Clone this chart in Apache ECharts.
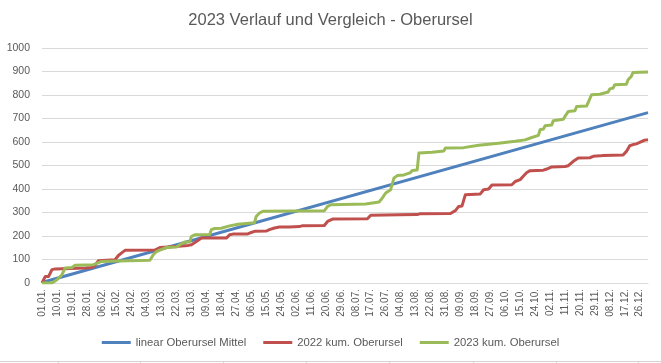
<!DOCTYPE html>
<html>
<head>
<meta charset="utf-8">
<script src="https://cdn.jsdelivr.net/npm/echarts@6/dist/echarts.min.js"></script>
<style>
html,body{margin:0;padding:0;background:#fff;}
#chart{width:661px;height:363px;}
</style>
</head>
<body>
<div id="chart"></div>
<script>
// Tick labels (every 9th day)
var tickLabels = ["01.01.","10.01.","19.01.","28.01.","06.02.","15.02.","24.02.","04.03.","13.03.","22.03.","31.03.","09.04.","18.04.","27.04.","06.05.","15.05.","24.05.","02.06.","11.06.","20.06.","29.06.","08.07.","17.07.","26.07.","04.08.","13.08.","22.08.","31.08.","09.09.","18.09.","27.09.","06.10.","15.10.","24.10.","02.11.","11.11.","20.11.","29.11.","08.12.","17.12.","26.12."];

var seriesNames = ["linear Oberursel Mittel","2022 kum. Oberursel","2023 kum. Oberursel"];

// [day index, value]
var linearMittel = [[0,2],[365,725]];

var kum2022 = [[0,0],[1,0],[2,28],[4,28],[6,57],[8,60],[17,62],[26,64],[30,66],[32,75],[34,95],[44,99],[46,117],[48,128],[50,139],[68,140],[71,151],[76,153],[82,156],[88,160],[90,163],[93,177],[96,191],[111,191],[113,205],[115,208],[124,209],[126,215],[128,220],[135,221],[137,227],[140,234],[143,238],[149,238],[155,240],[157,244],[170,245],[172,262],[175,272],[196,273],[198,288],[215,290],[226,291],[228,295],[246,296],[249,308],[251,326],[253,328],[255,376],[264,379],[266,397],[269,400],[271,417],[283,418],[285,432],[288,440],[290,455],[292,470],[294,478],[302,480],[304,485],[307,494],[315,496],[317,499],[320,518],[323,532],[330,533],[332,539],[336,541],[338,543],[350,545],[352,560],[354,584],[356,589],[358,592],[360,598],[363,608],[365,610]];

var kum2023 = [[0,0],[6,0],[9,14],[12,35],[14,64],[18,66],[20,76],[31,78],[32,85],[36,92],[46,94],[47,96],[65,97],[67,120],[69,134],[71,140],[75,151],[81,153],[83,163],[86,174],[89,176],[90,198],[92,205],[101,206],[102,227],[104,232],[108,233],[109,241],[113,243],[114,248],[118,250],[119,255],[128,256],[129,283],[131,298],[133,305],[170,307],[172,326],[174,333],[195,336],[196,343],[203,345],[205,362],[207,383],[210,397],[212,447],[214,457],[218,460],[219,468],[222,470],[223,479],[226,481],[227,553],[235,556],[236,560],[242,562],[243,574],[254,576],[255,584],[263,586],[264,593],[275,595],[276,601],[285,603],[286,607],[291,609],[292,617],[295,619],[296,624],[299,628],[300,652],[302,655],[303,669],[307,672],[308,691],[310,693],[311,695],[314,697],[315,709],[316,712],[317,730],[321,733],[322,751],[328,753],[329,769],[330,775],[331,801],[336,803],[337,811],[341,813],[342,826],[344,830],[345,844],[352,846],[353,865],[355,880],[356,896],[365,898]];

var colors = ["#4F81BD","#C0504D","#9BBB59"];
var font = "'Liberation Sans', Arial, sans-serif";

var chart = echarts.init(document.getElementById('chart'), null, {renderer:'canvas'});
chart.setOption({
  animation: false,
  backgroundColor: '#ffffff',
  color: colors,
  title: {
    text: '2023 Verlauf und Vergleich - Oberursel',
    left: 'center',
    top: 7,
    textStyle: {fontFamily: font, fontSize: 16.5, fontWeight: 'normal', color: '#595959'}
  },
  legend: {
    bottom: 10,
    left: 'center',
    icon: 'rect',
    itemWidth: 29,
    itemHeight: 3,
    itemGap: 17,
    textStyle: {fontFamily: font, fontSize: 11.3, color: '#595959'},
    data: seriesNames
  },
  grid: {left: 42, right: 13, top: 48, bottom: 80, containLabel: false},
  xAxis: {
    type: 'value',
    min: 0,
    max: 365,
    interval: 9,
    axisLine: {show: true, lineStyle: {color: '#d9d9d9', width: 1}},
    axisTick: {show: false},
    splitLine: {show: false},
    axisLabel: {
      rotate: 90,
      margin: 6,
      fontFamily: font,
      fontSize: 10,
      color: '#595959',
      showMaxLabel: false,
      formatter: function (v) { return (v % 9 === 0 && tickLabels[v / 9]) ? tickLabels[v / 9] : ''; }
    }
  },
  yAxis: {
    type: 'value',
    min: 0,
    max: 1000,
    interval: 100,
    axisLine: {show: false},
    axisTick: {show: false},
    splitLine: {show: true, lineStyle: {color: '#d9d9d9', width: 1}},
    axisLabel: {fontFamily: font, fontSize: 10.5, color: '#595959', margin: 12, formatter: function (v) { return String(v); }}
  },
  graphic: [
    {type: 'line', shape: {x1: 0, y1: 361.5, x2: 661, y2: 361.5}, style: {stroke: '#d4d4d4', lineWidth: 1}, silent: true},
    {type: 'line', shape: {x1: 58.5, y1: 361, x2: 58.5, y2: 363}, style: {stroke: '#d4d4d4', lineWidth: 1}, silent: true},
    {type: 'line', shape: {x1: 140.5, y1: 361, x2: 140.5, y2: 363}, style: {stroke: '#d4d4d4', lineWidth: 1}, silent: true},
    {type: 'line', shape: {x1: 223.5, y1: 361, x2: 223.5, y2: 363}, style: {stroke: '#d4d4d4', lineWidth: 1}, silent: true},
    {type: 'line', shape: {x1: 306.5, y1: 361, x2: 306.5, y2: 363}, style: {stroke: '#d4d4d4', lineWidth: 1}, silent: true},
    {type: 'line', shape: {x1: 389.5, y1: 361, x2: 389.5, y2: 363}, style: {stroke: '#d4d4d4', lineWidth: 1}, silent: true},
    {type: 'line', shape: {x1: 473.5, y1: 361, x2: 473.5, y2: 363}, style: {stroke: '#d4d4d4', lineWidth: 1}, silent: true},
    {type: 'line', shape: {x1: 556.5, y1: 361, x2: 556.5, y2: 363}, style: {stroke: '#d4d4d4', lineWidth: 1}, silent: true},
    {type: 'line', shape: {x1: 638.5, y1: 361, x2: 638.5, y2: 363}, style: {stroke: '#d4d4d4', lineWidth: 1}, silent: true}
  ],
  series: [
    {name: seriesNames[0], type: 'line', data: linearMittel, showSymbol: false, lineStyle: {width: 3, color: colors[0]}, itemStyle: {color: colors[0]}},
    {name: seriesNames[1], type: 'line', data: kum2022, showSymbol: false, lineStyle: {width: 3, color: colors[1], join: 'round'}, itemStyle: {color: colors[1]}},
    {name: seriesNames[2], type: 'line', data: kum2023, showSymbol: false, lineStyle: {width: 3, color: colors[2], join: 'round'}, itemStyle: {color: colors[2]}}
  ]
});
</script>
</body>
</html>
